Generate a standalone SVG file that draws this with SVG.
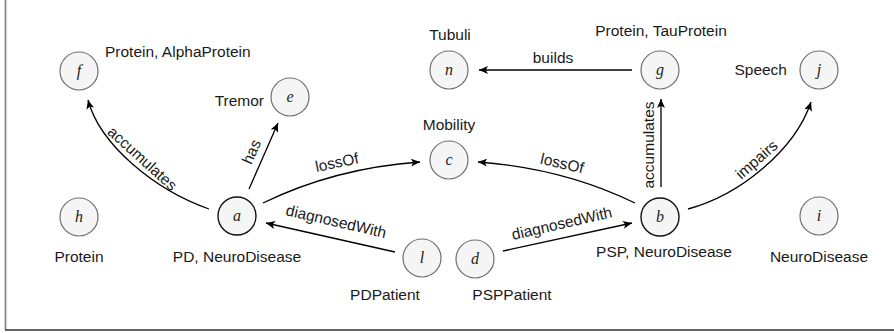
<svg xmlns="http://www.w3.org/2000/svg" width="894" height="333" viewBox="0 0 894 333">
  <style>
    .node circle { fill: #f5f5f5; stroke: #707070; stroke-width: 1.2; }
    .node.main circle { stroke: #111; stroke-width: 1.4; }
    .sym { font-family: "Liberation Serif", serif; font-style: italic; font-size: 16px; fill: #222; text-anchor: middle; }
    .lbl { font-family: "Liberation Sans", Arial, sans-serif; font-size: 15.5px; fill: #1a1a1a; }
    .mid { text-anchor: middle; }
    .end { text-anchor: end; }
    .edge { fill: none; stroke: #000; stroke-width: 1.3; marker-end: url(#arrow); }
    .elbl { font-family: "Liberation Sans", Arial, sans-serif; font-size: 15.5px; fill: #1a1a1a; text-anchor: middle; }
  </style>
  <defs>
    <marker id="arrow" markerUnits="userSpaceOnUse" markerWidth="10" markerHeight="8" refX="9" refY="4" orient="auto">
      <path d="M0,0 L9,4 L0,8 L2.2,4 Z" fill="#000"/>
    </marker>
  </defs>

  <rect width="894" height="333" fill="#fff"/>
  <!-- frame -->
  <line x1="5.5" y1="0" x2="5.5" y2="330" stroke="#888" stroke-width="1.8"/>
  <line x1="5" y1="330" x2="894" y2="330" stroke="#333" stroke-width="1.5"/>

  <!-- connectors -->
  <g id="edges">
    <path class="edge" d="M209,209 C155,190 100,145 88,100"/>
    <path class="edge" d="M249,189 L278,123"/>
    <path class="edge" d="M263,203 Q335,168 420,162"/>
    <path class="edge" d="M395,252 L266,223"/>
    <path class="edge" d="M635,203 Q563,168 478,162"/>
    <path class="edge" d="M503,251 L632,223"/>
    <path class="edge" d="M661,187 L661,99"/>
    <path class="edge" d="M632,70 L479,70"/>
    <path class="edge" d="M688,209 C740,195 795,150 811,102"/>

    <text class="elbl" transform="translate(142,159) rotate(42)" dy="0.3em">accumulates</text>
    <text class="elbl" transform="translate(252,152) rotate(-66)" dy="0.3em">has</text>
    <text class="elbl" transform="translate(337,163) rotate(-12)" dy="0.3em">lossOf</text>
    <text class="elbl" transform="translate(336,222) rotate(13)" dy="0.3em">diagnosedWith</text>
    <text class="elbl" transform="translate(562,164) rotate(13)" dy="0.3em">lossOf</text>
    <text class="elbl" transform="translate(562,224) rotate(-13)" dy="0.3em">diagnosedWith</text>
    <text class="elbl" transform="translate(649,145) rotate(-90)" dy="0.3em">accumulates</text>
    <text class="elbl" transform="translate(757,160) rotate(-41)" dy="0.3em">impairs</text>
    <text class="elbl" x="553" y="63">builds</text>
  </g>

  <!-- nodes -->
  <g id="node-f" class="node">
    <circle cx="79" cy="71" r="19"/>
    <text class="sym" x="79" y="76">f</text>
    <text class="lbl" x="105" y="57">Protein, AlphaProtein</text>
  </g>
  <g id="node-e" class="node">
    <circle cx="290" cy="97" r="19"/>
    <text class="sym" x="290" y="102">e</text>
    <text class="lbl end" x="264" y="106">Tremor</text>
  </g>
  <g id="node-n" class="node">
    <circle cx="449" cy="70" r="19"/>
    <text class="sym" x="449" y="75">n</text>
    <text class="lbl mid" x="450" y="40">Tubuli</text>
  </g>
  <g id="node-g" class="node">
    <circle cx="660" cy="70" r="19"/>
    <text class="sym" x="660" y="75">g</text>
    <text class="lbl mid" x="661" y="36">Protein, TauProtein</text>
  </g>
  <g id="node-j" class="node">
    <circle cx="819" cy="70" r="19"/>
    <text class="sym" x="819" y="75">j</text>
    <text class="lbl end" x="787" y="75">Speech</text>
  </g>
  <g id="node-c" class="node">
    <circle cx="449" cy="160" r="19"/>
    <text class="sym" x="449" y="165">c</text>
    <text class="lbl mid" x="449" y="130">Mobility</text>
  </g>
  <g id="node-h" class="node">
    <circle cx="79" cy="217" r="19"/>
    <text class="sym" x="79" y="222">h</text>
    <text class="lbl mid" x="79" y="262">Protein</text>
  </g>
  <g id="node-a" class="node main">
    <circle cx="237" cy="216" r="19"/>
    <text class="sym" x="237" y="221">a</text>
    <text class="lbl mid" x="237" y="262">PD, NeuroDisease</text>
  </g>
  <g id="node-b" class="node main">
    <circle cx="660" cy="217" r="19"/>
    <text class="sym" x="660" y="222">b</text>
    <text class="lbl mid" x="664" y="257">PSP, NeuroDisease</text>
  </g>
  <g id="node-i" class="node">
    <circle cx="819" cy="216" r="19"/>
    <text class="sym" x="819" y="221">i</text>
    <text class="lbl mid" x="819" y="262">NeuroDisease</text>
  </g>
  <g id="node-l" class="node">
    <circle cx="422" cy="258" r="19"/>
    <text class="sym" x="422" y="263">l</text>
    <text class="lbl mid" x="385" y="300">PDPatient</text>
  </g>
  <g id="node-d" class="node">
    <circle cx="475" cy="259" r="19"/>
    <text class="sym" x="475" y="264">d</text>
    <text class="lbl mid" x="512" y="300">PSPPatient</text>
  </g>
</svg>
